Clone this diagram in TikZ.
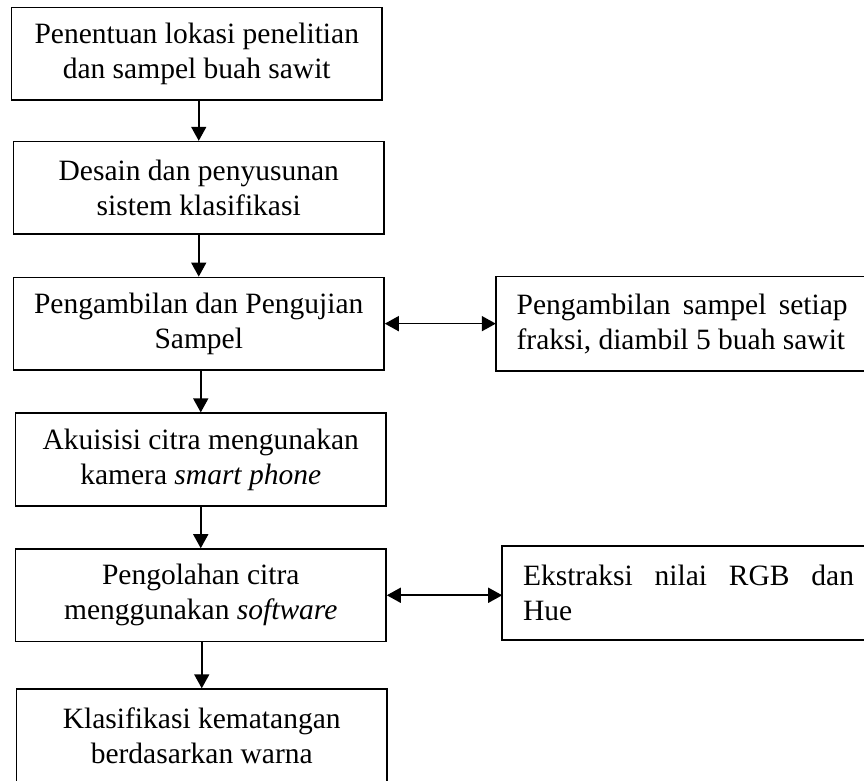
\documentclass[tikz,border=0pt]{standalone}
\usepackage{fontspec}
\setmainfont{Liberation Serif}
\usetikzlibrary{positioning,arrows.meta}
\newcommand{\flowfont}{\fontsize{29.5}{35}\selectfont}

\begin{document}
\begin{tikzpicture}[x=1pt,y=-1pt,
  flowBox/.style={draw,line width=1.6pt,minimum width=370.5pt,minimum height=92.5pt,align=center,font=\flowfont,inner sep=0pt},
  sideBox/.style={text width=331pt,minimum height=92.5pt,inner xsep=20pt,inner ysep=0pt,outer sep=0.8pt,align=justify,font=\flowfont},
  sideFrame/.style={line width=1.6pt},
  flowArrow/.style={line width=1.6pt,-{Triangle[length=14pt,width=15pt]}},
  bothArrow/.style={line width=1.6pt,{Triangle[length=14pt,width=15pt]}-{Triangle[length=14pt,width=15pt]}}]
\useasboundingbox (0,0) rectangle (864,780);
%the nodes
\node [flowBox,anchor=north west] (stepLokasi) at (10.7,6.7) {Penentuan lokasi penelitian\\dan sampel buah sawit};
\node [flowBox,below=40pt of stepLokasi,xshift=2pt] (stepDesain) {Desain dan penyusunan\\sistem klasifikasi};
\node [flowBox,below=41.7pt of stepDesain] (stepSampel) {Pengambilan dan Pengujian\\Sampel};
\node [flowBox,below=41.7pt of stepSampel,xshift=2pt] (stepAkuisisi) {Akuisisi citra mengunakan\\kamera \textit{smart phone}};
\node [flowBox,below=41.7pt of stepAkuisisi] (stepOlah) {Pengolahan citra\\menggunakan \textit{software}};
\node [flowBox,below=46pt of stepOlah,xshift=1pt] (stepKlasifikasi) {Klasifikasi kematangan\\berdasarkan warna};
\node [sideBox,right=111pt of stepSampel] (sideSampel) {Pengambilan sampel setiap\linebreak fraksi, diambil 5 buah sawit};
\node [sideBox,right=115.4pt of stepOlah,yshift=2.5pt] (sideRGB) {Ekstraksi nilai RGB dan\linebreak Hue};
%side frames run off the right edge
\draw [sideFrame] (sideSampel.north west) rectangle ([xshift=40pt]sideSampel.south east);
\draw [sideFrame] (sideRGB.north west) rectangle ([xshift=40pt]sideRGB.south east);
%drawings of lines
\draw [flowArrow] (stepDesain.north |- stepLokasi.south) -- (stepDesain.north);
\draw [flowArrow] (stepSampel.north |- stepDesain.south) -- (stepSampel.north);
\draw [flowArrow] (stepAkuisisi.north |- stepSampel.south) -- (stepAkuisisi.north);
\draw [flowArrow] (stepOlah.north |- stepAkuisisi.south) -- (stepOlah.north);
\draw [flowArrow] (stepKlasifikasi.north |- stepOlah.south) -- (stepKlasifikasi.north);

\draw [bothArrow] (stepSampel.east) -- (sideSampel.west);
\draw [bothArrow] (stepOlah.east) -- (stepOlah.east -| sideRGB.west);

\end{tikzpicture}
\end{document}
